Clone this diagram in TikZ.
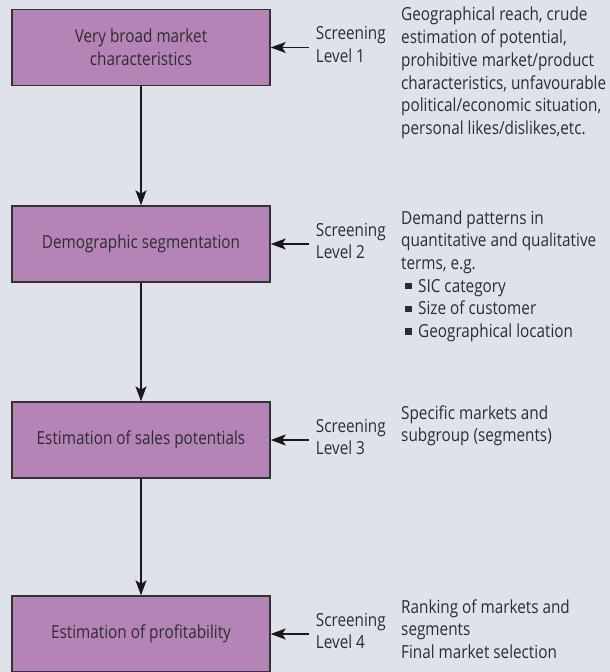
\documentclass[tikz,border=0pt]{standalone}
\usepackage{fontspec}
\setmainfont{Open Sans}[FakeStretch=0.85]
\usetikzlibrary{arrows.meta, positioning}

\definecolor{panelgray}{RGB}{223,226,234}
\definecolor{boxpurple}{RGB}{180,132,182}
\definecolor{edgegray}{RGB}{50,50,50}
\definecolor{inkgray}{RGB}{45,45,45}

\newcommand{\sqbullet}{\hspace*{4bp}\rule[2.7bp]{6.5bp}{6.5bp}\hspace{6.5bp}}

\begin{document}
\begin{tikzpicture}[x=1bp, y=-1bp,
  font=\fontsize{18bp}{22.7bp}\selectfont,
  stage/.style={draw=edgegray, line width=1.4bp, fill=boxpurple, text=inkgray,
    minimum width=258bp, minimum height=76bp, align=center, inner sep=0pt},
  screen/.style={right=38bp of #1, anchor=west, yshift=3bp, align=left, text=inkgray,
    inner xsep=7bp, inner ysep=0pt},
  note/.style={anchor=base west, align=left, text=inkgray, inner sep=0pt},
  flow/.style={-{Stealth[length=15bp, width=11bp, inset=3.5bp]}, line width=1.3bp, draw=black!90}]
\useasboundingbox (0,0) rectangle (610,672);
\fill[panelgray] (0,0) rectangle (610,672);

% stages down the left
\node[stage] (market) at (141,47.5) {Very broad market\\characteristics};
\node[stage] (demo) at (141,244) {Demographic segmentation};
\node[stage] (sales) at (141,440) {Estimation of sales potentials};
\node[stage] (profit) at (141,634) {Estimation of profitability};

% screening levels
\node[screen=market] (scr1) {Screening\\Level 1};
\node[screen=demo] (scr2) {Screening\\Level 2};
\node[screen=sales] (scr3) {Screening\\Level 3};
\node[screen=profit] (scr4) {Screening\\Level 4};

% criteria at each level (placed by their last baseline)
\node[note] (crit1) at (401,134.5) {Geographical reach, crude\\estimation of potential,\\prohibitive market/product\\characteristics, unfavourable\\political/economic situation,\\personal likes/dislikes,etc.};
\node[note] (crit2) at (401,337.5) {Demand patterns in\\quantitative and qualitative\\terms, e.g.\\\sqbullet SIC category\\\sqbullet Size of customer\\\sqbullet Geographical location};
\node[note] (crit3) at (401,441.7) {Specific markets and\\subgroup (segments)};
\node[note] (crit4) at (401,658.4) {Ranking of markets and\\segments\\Final market selection};

\draw[flow] (market) -- (demo);
\draw[flow] (demo) -- (sales);
\draw[flow] (sales) -- (profit);

\foreach \lvl/\stg in {scr1/market, scr2/demo, scr3/sales, scr4/profit}
  \draw[flow] (\lvl.west |- \stg.east) -- (\stg.east);
\end{tikzpicture}
\end{document}
